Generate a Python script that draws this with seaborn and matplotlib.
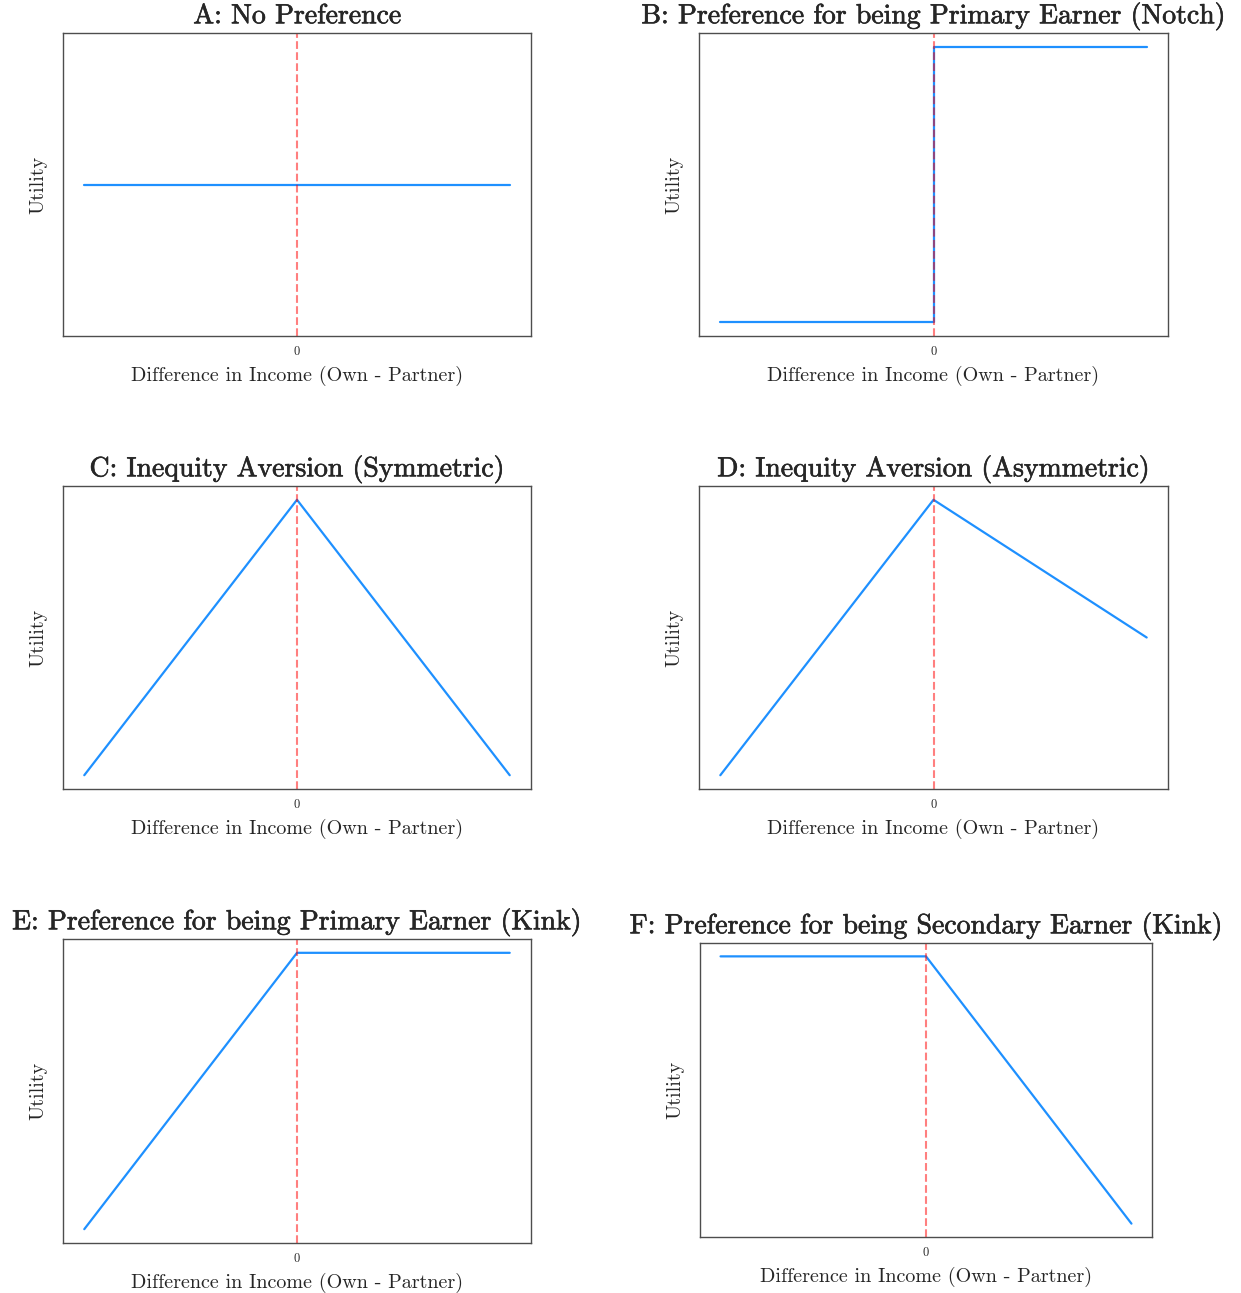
import numpy as np
import pandas as pd
import matplotlib
matplotlib.use("Agg")
import matplotlib.pyplot as plt
import matplotlib.patheffects as pe
import seaborn as sns

# utility shapes, x = income difference (own - partner)
x_diff = [-1, 0, 1]
x_notch = [-1, 0, 0, 1]
u_none = [0, 0, 0]
u_notch = [0, 0, 1, 1]
u_sym = [-1, 0, -1]
u_asym = [-1, 0, -0.5]
u_kink_primary = [-1, 0, 0]
u_kink_secondary = [0, 0, -1]

titles = [
    "A: No Preference",
    "B: Preference for being Primary Earner (Notch)",
    "C: Inequity Aversion (Symmetric)",
    "D: Inequity Aversion (Asymmetric)",
    "E: Preference for being Primary Earner (Kink)",
    "F: Preference for being Secondary Earner (Kink)",
]
panels = [
    (x_diff, u_none),
    (x_notch, u_notch),
    (x_diff, u_sym),
    (x_diff, u_asym),
    (x_diff, u_kink_primary),
    (x_diff, u_kink_secondary),
]

sns.set_style("white")
plt.rcParams["font.family"] = ["cmr10", "DejaVu Serif"]
plt.rcParams["axes.formatter.use_mathtext"] = True
plt.rcParams["text.color"] = ".15"
plt.rcParams["axes.labelcolor"] = ".15"

W, H = 1241, 1293
fig = plt.figure(figsize=(W / 100, H / 100), dpi=100)

# axes boxes in pixels: left, top, right, bottom
boxes = [
    (63, 33, 531, 336),
    (699, 33, 1168, 336),
    (63, 486, 531, 789),
    (699, 486, 1168, 789),
    (63, 939, 531, 1243),
    (700, 943, 1152, 1237),
]

for (l, t, r, b), title, (xs, ys) in zip(boxes, titles, panels):
    ax = fig.add_axes([l / W, 1 - b / H, (r - l) / W, (b - t) / H])
    df = pd.DataFrame({"x": xs, "y": ys})
    sns.lineplot(data=df, x="x", y="y", ax=ax, color="dodgerblue",
                 linewidth=1.6, estimator=None, sort=False)
    ax.axvline(0, color="red", linestyle="--", alpha=0.5, linewidth=1.5)
    ax.set_title(title, fontsize=20, pad=7,
                 path_effects=[pe.withStroke(linewidth=0.45, foreground=".15")])
    ax.set_xlabel("Difference in Income (Own - Partner)", fontsize=14.5, labelpad=6)
    ax.set_ylabel("Utility", fontsize=14.5, labelpad=11)
    ax.set_xticks([0])
    ax.set_xticklabels(["0"], fontsize=9)
    ax.set_yticks([])
    ax.tick_params(axis="x", length=0, pad=7)
    for s in ax.spines.values():
        s.set_color(".3")
        s.set_linewidth(1.0)

fig.savefig("out.png", dpi=100)
